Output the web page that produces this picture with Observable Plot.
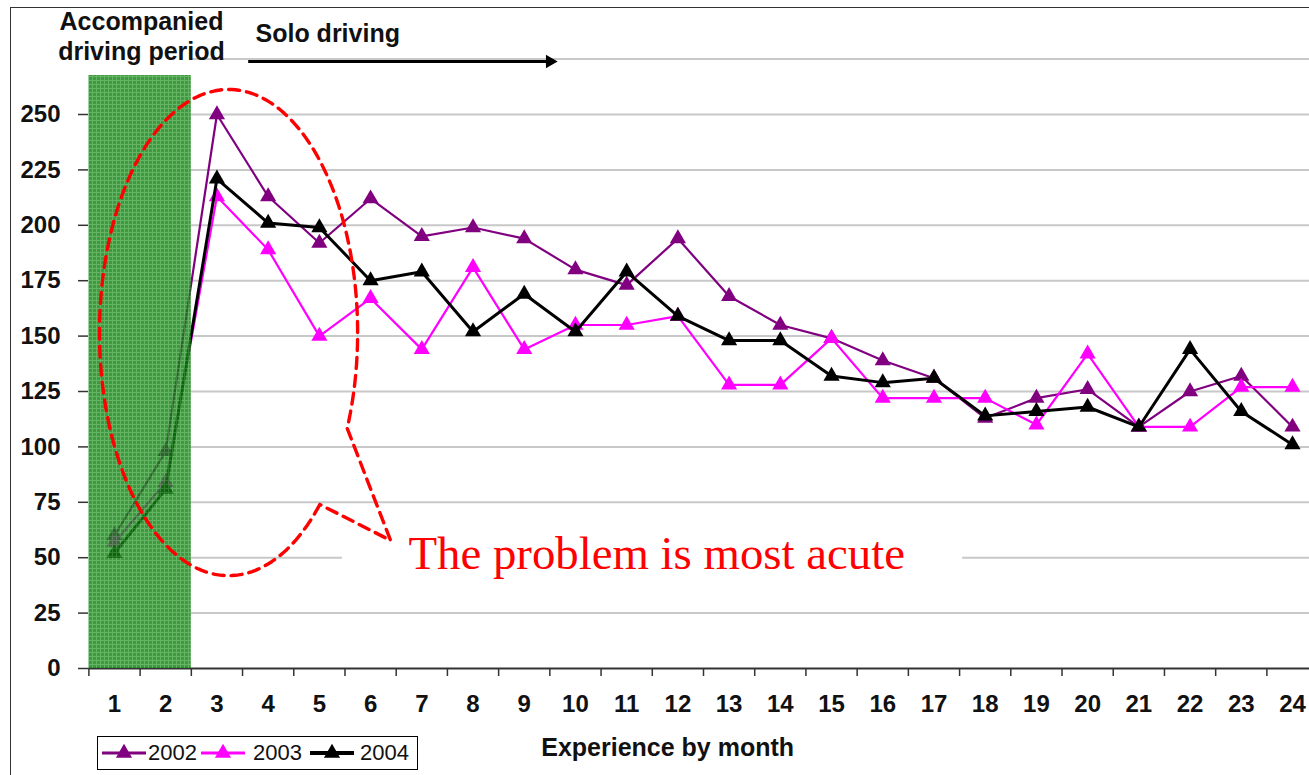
<!DOCTYPE html>
<html>
<head>
<meta charset="utf-8">
<script src="https://cdn.jsdelivr.net/npm/d3@7"></script>
<script src="https://cdn.jsdelivr.net/npm/@observablehq/plot@0.6"></script>
<style>
  body { margin: 0; background: #fff; }
  #wrap { position: relative; width: 1309px; height: 775px; overflow: hidden; background: #fff; }
  #wrap svg { position: absolute; left: 0; top: 0; }
  #border { position: absolute; left: 10px; top: 7px; width: 1400px; height: 900px;
            border-left: 1.5px solid #333; border-top: 1.5px solid #333; pointer-events: none; }
  #legend { position: absolute; left: 97px; top: 736px; width: 319px; height: 32px;
            border: 1.5px solid #000; background: #fff;
            font-family: 'Liberation Sans', Arial, sans-serif; font-size: 22px; color: #111; }
  #legend .item { position: absolute; top: 0; height: 32px; display: flex; align-items: center; }
</style>
</head>
<body>
<div id="wrap"><div id="border"></div></div>
<script>
// ---------- data ----------
const months = [1,2,3,4,5,6,7,8,9,10,11,12,13,14,15,16,17,18,19,20,21,22,23,24];
const years = ["2002", "2003", "2004"];
const values2002 = [60, 98, 250, 213, 192, 212, 195, 199, 194, 180, 173, 194, 168, 155, 149, 139, 131, 113, 122, 126, 109, 125, 132, 109];
const values2003 = [57, 84, 213, 189, 150, 167, 144, 181, 144, 155, 155, 159, 128, 128, 149, 122, 122, 122, 110, 142, 109, 109, 127, 127];
const values2004 = [52, 81, 221, 201, 199, 175, 179, 152, 169, 152, 179, 159, 148, 148, 132, 129, 131, 114, 116, 118, 109, 144, 116, 101];
const yearColors = ["#800080", "#ff00ff", "#000000"];
const yearWidths = [2.2, 2.2, 3];
const yTicks = [0, 25, 50, 75, 100, 125, 150, 175, 200, 225, 250];
const gridValues = [25, 50, 75, 100, 125, 150, 175, 200, 225, 250, 275];
const monthBoundaries = [0.5,1.5,2.5,3.5,4.5,5.5,6.5,7.5,8.5,9.5,10.5,11.5,12.5,13.5,14.5,15.5,16.5,17.5,18.5,19.5,20.5,21.5,22.5,23.5,24.5];
const xTitle = "Experience by month";
const accompaniedLabel = "Accompanied\ndriving period";
const soloLabel = "Solo driving";
const calloutLabel = "The problem is most acute";

// annotation geometry (data units: months / count)
const accompaniedSpan = {x1: 0.5, x2: 2.5, y1: 0, y2: 267.6};
const soloArrow = {x1: 3.62, x2: 9.5, y: 273.9};
const calloutBox = {x1: 5.45, x2: 17.56, y1: 37, y2: 63};
const calloutEllipse = {cx: 3.227, cy: 151.6, rx: 2.52, ry: 109.7, from: 45, to: 383.2};
const calloutTip = {x: 6.39, y: 57.8};

// ---------- build ----------
const valuesByYear = [values2002, values2003, values2004];
const tables = years.map((yr, i) => months.map((m, j) => ({month: m, value: valuesByYear[i][j], year: yr})));

const calloutPath = [];
for (let a = calloutEllipse.from; a <= calloutEllipse.to; a += 1.5) {
  const t = a * Math.PI / 180;
  calloutPath.push({x: calloutEllipse.cx + calloutEllipse.rx * Math.cos(t), y: calloutEllipse.cy - calloutEllipse.ry * Math.sin(t)});
}
{
  const t = calloutEllipse.to * Math.PI / 180;
  calloutPath.push({x: calloutEllipse.cx + calloutEllipse.rx * Math.cos(t), y: calloutEllipse.cy - calloutEllipse.ry * Math.sin(t)});
}
calloutPath.push({x: calloutTip.x, y: calloutTip.y});
calloutPath.push(calloutPath[0]);

const seriesMarks = [];
tables.forEach((tbl, i) => {
  seriesMarks.push(Plot.line(tbl, {x: "month", y: "value", stroke: yearColors[i], strokeWidth: yearWidths[i], strokeLinejoin: "miter"}));
  seriesMarks.push(Plot.dot(tbl, {x: "month", y: "value", symbol: "triangle", r: 6, fill: yearColors[i], stroke: "none"}));
});

const plot = Plot.plot({
  width: 1309,
  height: 775,
  marginLeft: 88, marginRight: 0, marginTop: 0, marginBottom: 107,
  x: {type: "linear", domain: [1, 24], range: [114, 1292]},
  y: {type: "linear", domain: [0, 250], range: [668, 114]},
  style: {fontFamily: "'Liberation Sans', Arial, sans-serif", background: "transparent", color: "#111"},
  marks: [
    Plot.ruleY(gridValues, {x1: accompaniedSpan.x2, x2: 24.6, stroke: "#c8c8c8", strokeWidth: 2}),
    Plot.rect([calloutBox], {x1: "x1", x2: "x2", y1: "y1", y2: "y2", fill: "white"}),
    Plot.ruleY([0], {x1: 0.5, x2: 24.6, stroke: "#333", strokeWidth: 2}),
    Plot.axisX(monthBoundaries, {tickSize: 8, tickFormat: () => "", stroke: "#333", strokeWidth: 1.5}),
    Plot.axisX(months, {tickSize: 0, tickPadding: 26, fontSize: 24, fontWeight: "bold", fill: "#111"}),
    Plot.axisY(yTicks, {tickSize: 10, tickPadding: 18, fontSize: 24, fontWeight: "bold", fill: "#111", stroke: "#333", strokeWidth: 1.5}),
    ...seriesMarks,
    Plot.rect([accompaniedSpan], {x1: "x1", x2: "x2", y1: "y1", y2: "y2", fill: "#228b22", fillOpacity: 0.8}),
    Plot.line(calloutPath, {x: "x", y: "y", stroke: "#ff0000", strokeWidth: 3.4, strokeDasharray: "11,7", curve: "linear"}),
    Plot.ruleY([soloArrow], {x1: "x1", x2: "x2", y: "y", stroke: "#000", strokeWidth: 3}),
    Plot.dot([soloArrow], {x: "x2", y: "y", symbol: "triangle", rotate: 90, r: 5, fill: "#000"}),
    Plot.text([accompaniedLabel], {x: 1.527, y: 274.4, text: d => d, fontSize: 25, fontWeight: "bold", lineAnchor: "bottom", lineHeight: 1.2, fill: "#111"}),
    Plot.text([soloLabel], {x: 3.753, y: 282.5, text: d => d, fontSize: 25, fontWeight: "bold", textAnchor: "start", lineAnchor: "bottom", fill: "#111"}),
    Plot.text([calloutLabel], {x: 6.74, y: 45.1, text: d => d, fontSize: 46.8, fontFamily: "'Liberation Serif', 'Times New Roman', serif", textAnchor: "start", lineAnchor: "bottom", fill: "#ff0000"}),
    Plot.text([xTitle], {x: 11.8, y: 0, dy: 79, text: d => d, fontSize: 25, fontWeight: "bold", fill: "#111"})
  ]
});

// green textured fill for the accompanied-driving band
const svgSel = d3.select(plot);
const defs = svgSel.insert("defs", ":first-child");
const pat = defs.append("pattern").attr("id", "greenTex").attr("width", 4).attr("height", 4).attr("patternUnits", "userSpaceOnUse");
pat.append("rect").attr("width", 4).attr("height", 4).attr("fill", "#0f800f");
pat.append("path").attr("d", "M0 0.5H4M0.5 0V4").attr("stroke", "#3fa03f").attr("stroke-width", 1);
svgSel.selectAll("g[aria-label='rect']").filter(function() { return this.getAttribute("fill") === "#228b22"; }).attr("fill", "url(#greenTex)");

const wrap = document.getElementById("wrap");
wrap.insertBefore(plot, wrap.firstChild);

// legend
const legend = document.createElement("div");
legend.id = "legend";
const swatchLeft = [4, 103, 212];
const textLeft = [50, 155, 262];
years.forEach((yr, i) => {
  const sw = document.createElementNS("http://www.w3.org/2000/svg", "svg");
  sw.setAttribute("width", 44); sw.setAttribute("height", 32);
  sw.style.position = "absolute"; sw.style.left = swatchLeft[i] + "px"; sw.style.top = "0px";
  const ln = document.createElementNS("http://www.w3.org/2000/svg", "line");
  ln.setAttribute("x1", 0); ln.setAttribute("x2", 44); ln.setAttribute("y1", 16); ln.setAttribute("y2", 16);
  ln.setAttribute("stroke", yearColors[i]); ln.setAttribute("stroke-width", yearWidths[i] + 1);
  sw.appendChild(ln);
  const tri = document.createElementNS("http://www.w3.org/2000/svg", "path");
  tri.setAttribute("d", d3.symbol(d3.symbolTriangle, 6 * 6 * Math.PI)());
  tri.setAttribute("transform", "translate(22,16)");
  tri.setAttribute("fill", yearColors[i]);
  sw.appendChild(tri);
  legend.appendChild(sw);
  const tx = document.createElement("div");
  tx.className = "item"; tx.style.left = textLeft[i] + "px"; tx.textContent = yr;
  legend.appendChild(tx);
});
wrap.appendChild(legend);
</script>
</body>
</html>
